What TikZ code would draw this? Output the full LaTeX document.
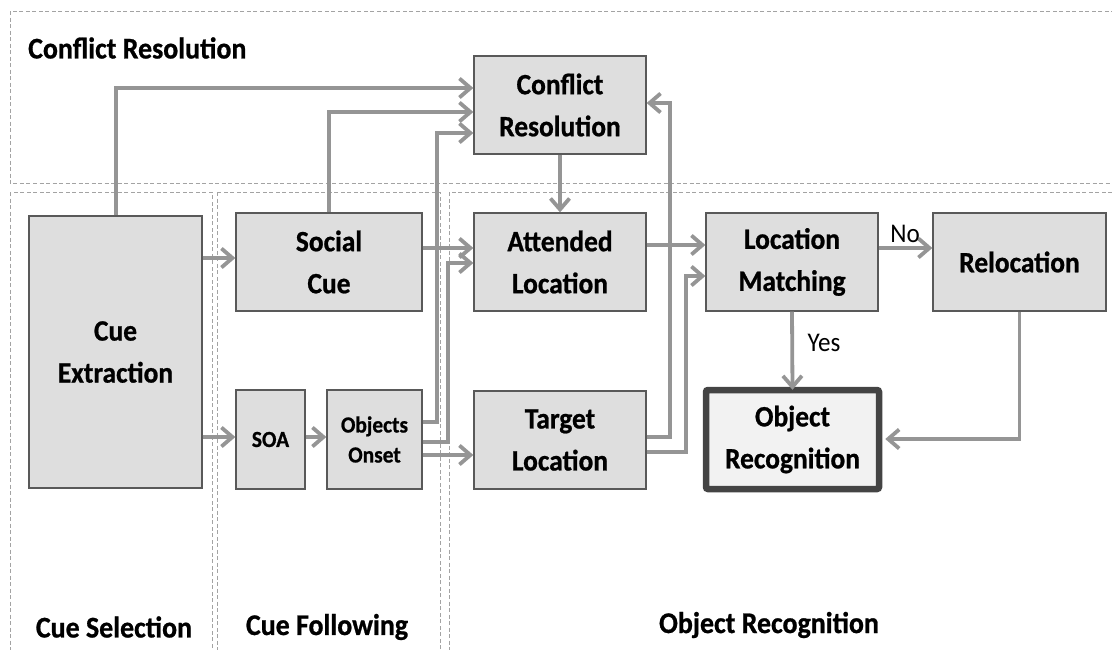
\documentclass[tikz,border=0pt]{standalone}
\usepackage{fontspec}
\setmainfont[FakeStretch=0.93, BoldFeatures={FakeBold=0.8}]{Carlito}
\usetikzlibrary{arrows.meta,calc}
\definecolor{linegray}{HTML}{959595}
\definecolor{boxfill}{HTML}{DEDEDE}
\definecolor{boxedge}{HTML}{595959}
\definecolor{zoneedge}{HTML}{A3A3A3}
\definecolor{keyfill}{HTML}{F2F2F2}
\definecolor{keyedge}{HTML}{444444}
\tikzset{
  zone/.style={draw=zoneedge, line width=1pt, dash pattern=on 4pt off 2.5pt},
  box/.style={draw=boxedge, fill=boxfill, line width=1.3pt, inner sep=0pt,
    align=center, font=\fontsize{29.5}{42}\selectfont\bfseries,
    execute at begin node={\rule{0pt}{0pt}\vspace*{4pt}}},
  smallbox/.style={box, font=\fontsize{23}{30}\selectfont\bfseries,
    execute at begin node={}},
  keybox/.style={box, draw=keyedge, fill=keyfill, line width=6.5pt, rounded corners=2pt},
  conn/.style={draw=linegray, line width=3.8pt,
    -{Straight Barb[length=11pt,width=19pt,line width=3.8pt]}},
  zonelabel/.style={font=\fontsize{30}{34}\selectfont\bfseries, inner sep=0pt},
  branch/.style={font=\fontsize{27}{30}\selectfont, inner sep=0pt},
}
\begin{document}
\begin{tikzpicture}[x=1pt, y=-1pt]
\useasboundingbox (0,0) rectangle (1112,649);
\clip (0,0) rectangle (1112,649);

% processing stages
\draw[zone] (10,11) rectangle (1125,183);
\draw[zone] (10,192) rectangle (212,660);
\draw[zone] (217,192) rectangle (440,660);
\draw[zone] (449,192) rectangle (1125,660);

\node[zonelabel, anchor=west] (lcr) at (28,48) {Conflict Resolution};
\node[zonelabel] (lcs) at (114,627) {Cue Selection};
\node[zonelabel] (lcf) at (327,627) {Cue Following};
\node[zonelabel] (lor) at (769,625) {Object Recognition};

% processing steps
\node[box, minimum width=173pt, minimum height=272pt] (ce) at (115.5,352) {Cue\\Extraction};
\node[box, minimum width=186pt, minimum height=98pt] (sc) at (329,262) {Social\\Cue};
\node[smallbox, minimum width=69pt, minimum height=99pt] (soa) at (270.5,439.5) {SOA};
\node[smallbox, minimum width=95pt, minimum height=99pt] (oo) at (374.5,439.5) {Objects\\Onset};
\node[box, minimum width=172pt, minimum height=98pt] (cr) at (560,105) {Conflict\\Resolution};
\node[box, minimum width=172pt, minimum height=98pt] (al) at (560,262) {Attended\\Location};
\node[box, minimum width=172pt, minimum height=98pt] (tl) at (560,440) {Target\\Location};
\node[box, minimum width=172pt, minimum height=98pt] (lm) at (792,262) {Location\\Matching};
\node[box, minimum width=173pt, minimum height=98pt] (rl) at (1019.5,262) {Relocation};
\node[keybox, minimum width=173pt, minimum height=99pt] (or) at (792.5,439.5) {Object\\Recognition};

% connectors
\draw[conn] (ce.east |- 0,258) -- (sc.west |- 0,258);
\draw[conn] (ce.east |- 0,437) -- (soa.west |- 0,437);
\draw[conn] (soa.east |- 0,437) -- (oo.west |- 0,437);
\draw[conn] (ce.north -| 116,0) |- (cr.west |- 0,88);
\draw[conn] (sc.north -| 329,0) |- (cr.west |- 0,112);
\draw[conn] (oo.east |- 0,422) -| (437,133) -- (cr.west |- 0,133);
\draw[conn] (cr.south) -- (al.north);
\draw[conn] (sc.east |- 0,248) -- (al.west |- 0,248);
\draw[conn] (oo.east |- 0,442) -| (448,263) -- (al.west |- 0,263);
\draw[conn] (oo.east |- 0,455) -- (tl.west |- 0,455);
\draw[conn] (al.east |- 0,245) -- (lm.west |- 0,245);
\draw[conn] (tl.east |- 0,437) -| (670,103) -- (cr.east |- 0,103);
\draw[conn] (tl.east |- 0,452) -| (686,276) -- (lm.west |- 0,276);
\draw[conn] (lm.east |- 0,248) -- (rl.west |- 0,248);
\draw[conn] (lm.south) -- ([yshift=-3pt]or.north);
\draw[conn] (rl.south) |- ([xshift=3pt]or.east |- 0,439);

\node[branch] (no) at (905,234) {No};
\node[branch] (yes) at (824,343) {Yes};
\end{tikzpicture}
\end{document}
